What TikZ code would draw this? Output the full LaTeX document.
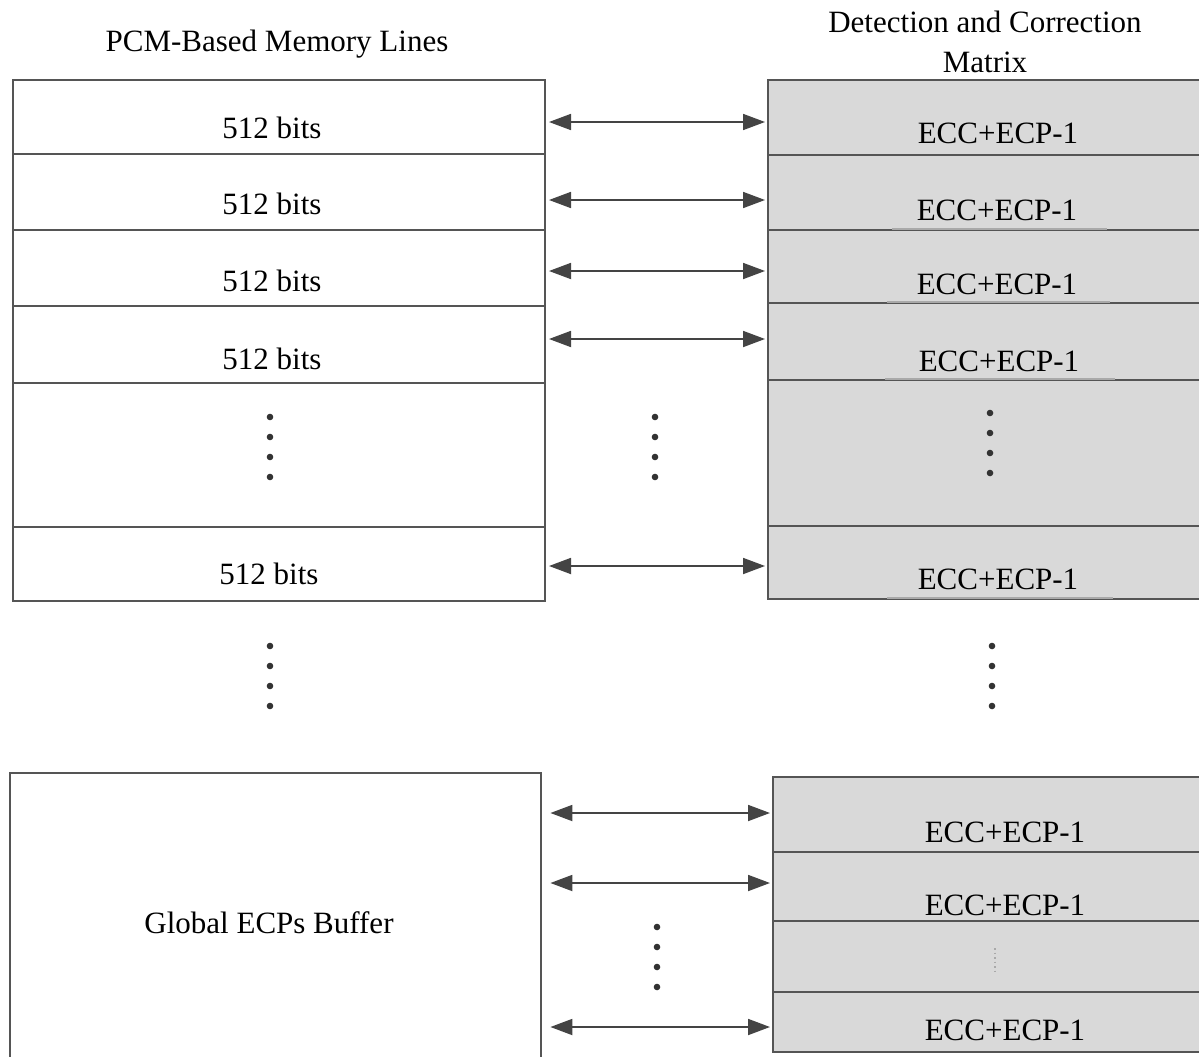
\documentclass[tikz,border=0pt]{standalone}
\usepackage{fontspec}
\setmainfont{Liberation Serif}
\usetikzlibrary{arrows.meta}
\definecolor{lc}{HTML}{555555}
\definecolor{ac}{HTML}{444444}
\definecolor{gf}{HTML}{D9D9D9}
\definecolor{lite}{HTML}{A9A9A9}
\definecolor{dc}{HTML}{333333}
\begin{document}
\begin{tikzpicture}[x=1pt,y=-1pt,
  font=\fontsize{31}{40}\selectfont,
  lrow/.style={draw=lc, line width=2pt, fill=white, anchor=north west, inner sep=0pt, minimum width=532pt},
  rrow/.style={draw=lc, line width=2pt, fill=gf, anchor=north west, inner sep=0pt, minimum width=445pt},
  txt/.style={inner sep=0pt, text=black},
  arr/.style={{Triangle[length=22pt,width=16pt]}-{Triangle[length=22pt,width=16pt]}, line width=1.8pt, draw=ac},
  dotc/.style={fill=dc, draw=none},
  litel/.style={draw=lite, line width=1.6pt}
]
\useasboundingbox (0,0) rectangle (1199,1057);
\fill[white] (0,0) rectangle (1199,1057);

% headers
\node[txt] (hl) at (277,44) {PCM-Based Memory Lines};
\node[txt, align=center] (hr) at (985,42) {Detection and Correction\\Matrix};

% left rows
\node[lrow, minimum height=74pt] (L1) at (12,79) {};
\node[lrow, minimum height=76pt] (L2) at (12,153) {};
\node[lrow, minimum height=76pt] (L3) at (12,229) {};
\node[lrow, minimum height=77pt] (L4) at (12,305) {};
\node[lrow, minimum height=144pt] (L5) at (12,382) {};
\node[lrow, minimum height=74pt] (L6) at (12,526) {};

% right rows
\node[rrow, minimum height=75pt] (R1) at (767,79) {};
\node[rrow, minimum height=75pt] (R2) at (767,154) {};
\node[rrow, minimum height=73pt] (R3) at (767,229) {};
\node[rrow, minimum height=77pt] (R4) at (767,302) {};
\node[rrow, minimum height=146pt] (R5) at (767,379) {};
\node[rrow, minimum height=73pt] (R6) at (767,525) {};

% lighter middle parts of the right row lines
\draw[litel] (892,229) -- (1107,229);
\draw[litel] (887,302) -- (1110,302);
\draw[litel] (885,379) -- (1115,379);
\draw[litel] (887,598) -- (1113,598);

% bottom left box (open at the bottom)
\node[draw=none, anchor=north west, inner sep=0pt, minimum width=531pt, minimum height=300pt] (G) at (10,773) {};
\draw[lc, line width=2pt] (G.south west) -- (G.north west) -- (G.north east) -- (G.south east);

% bottom right rows
\node[rrow, minimum width=440pt, minimum height=75pt] (B1) at (772,776) {};
\node[rrow, minimum width=440pt, minimum height=69pt] (B2) at (772,851) {};
\node[rrow, minimum width=440pt, minimum height=71pt] (B3) at (772,920) {};
\node[rrow, minimum width=440pt, minimum height=60pt] (B4) at (772,991) {};

% texts
\node[txt] (t1) at (272,128) {512 bits};
\node[txt] (t2) at (272,204) {512 bits};
\node[txt] (t3) at (272,281) {512 bits};
\node[txt] (t4) at (272,359) {512 bits};
\node[txt] (t6) at (269,574) {512 bits};
\node[txt] (e1) at (998,133) {ECC+ECP-1};
\node[txt] (e2) at (997,210) {ECC+ECP-1};
\node[txt] (e3) at (997,284) {ECC+ECP-1};
\node[txt] (e4) at (999,361) {ECC+ECP-1};
\node[txt] (e6) at (998,579) {ECC+ECP-1};
\node[txt] (g1) at (269,923) {Global ECPs Buffer};
\node[txt] (b1) at (1005,832) {ECC+ECP-1};
\node[txt] (b2) at (1005,905) {ECC+ECP-1};
\node[txt] (b4) at (1005,1030) {ECC+ECP-1};

% arrow levels
\coordinate (y1) at (0,122);
\coordinate (y2) at (0,200);
\coordinate (y3) at (0,271);
\coordinate (y4) at (0,339);
\coordinate (y6) at (0,566);
\coordinate (z1) at (0,813);
\coordinate (z2) at (0,883);
\coordinate (z4) at (0,1027);

\draw[arr] ([xshift=3pt]L1.east |- y1) -- ([xshift=-2pt]R1.west |- y1);
\draw[arr] ([xshift=3pt]L2.east |- y2) -- ([xshift=-2pt]R2.west |- y2);
\draw[arr] ([xshift=3pt]L3.east |- y3) -- ([xshift=-2pt]R3.west |- y3);
\draw[arr] ([xshift=3pt]L4.east |- y4) -- ([xshift=-2pt]R4.west |- y4);
\draw[arr] ([xshift=3pt]L6.east |- y6) -- ([xshift=-2pt]R6.west |- y6);
\draw[arr] ([xshift=9pt]G.east |- z1) -- ([xshift=-2pt]B1.west |- z1);
\draw[arr] ([xshift=9pt]G.east |- z2) -- ([xshift=-2pt]B2.west |- z2);
\draw[arr] ([xshift=9pt]G.east |- z4) -- ([xshift=-2pt]B4.west |- z4);

% dots
\foreach \i in {0,1,2,3} {
  \fill[dotc] (270,417+20*\i) circle (3.3pt);
  \fill[dotc] (655,417+20*\i) circle (3.3pt);
  \fill[dotc] (990,413+20*\i) circle (3.3pt);
  \fill[dotc] (270,646+20*\i) circle (3.3pt);
  \fill[dotc] (992,646+20*\i) circle (3.3pt);
  \fill[dotc] (657,927+20*\i) circle (3.3pt);
}
\draw[lite, line width=1.5pt, dash pattern=on 1.5pt off 3pt] (995,948) -- (995,974);
\end{tikzpicture}
\end{document}
